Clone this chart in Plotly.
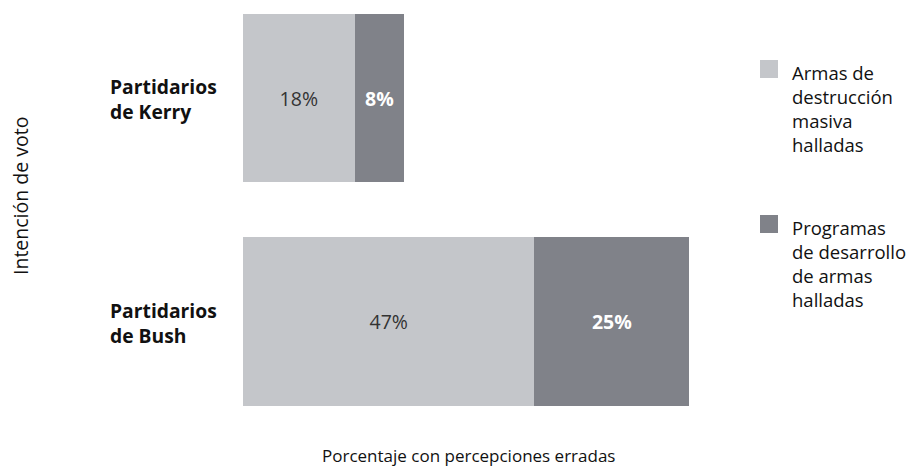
import plotly.graph_objects as go

# Data
groups = ["Partidarios<br>de Kerry", "Partidarios<br>de Bush"]
series_names = [
    "Armas de<br>destrucción<br>masiva<br>halladas",
    "Programas<br>de desarrollo<br>de armas<br>halladas",
]
wmd_found = [18, 47]
programs_found = [8, 25]

x_title = "Porcentaje con percepciones erradas"
y_title = "Intención de voto"

# Styling
FONT = "Open Sans"
LIGHT = "#c4c6ca"
DARK = "#808289"
W, H = 912, 466
ML, MR, MT, MB = 243, 204, 5, 51
PW, PH = W - ML - MR, H - MT - MB


def px_x(px):
    return (px - ML) / PW


def px_y(py):
    return 1 - (py - MT) / PH


fig = go.Figure()
fig.add_trace(go.Bar(
    y=groups, x=wmd_found, orientation="h", name=series_names[0],
    marker=dict(color=LIGHT, line=dict(width=0)), width=0.755,
    texttemplate="%{x}%", textposition="inside", insidetextanchor="middle",
    textangle=0, textfont=dict(family=FONT, size=19.5, color="#333333"),
    hoverinfo="skip",
))
fig.add_trace(go.Bar(
    y=groups, x=programs_found, orientation="h", name=series_names[1],
    marker=dict(color=DARK, line=dict(width=0)), width=0.755,
    texttemplate="<b>%{x}%</b>", textposition="inside", insidetextanchor="middle",
    textangle=0, textfont=dict(family=FONT, size=19.5, color="#ffffff"),
    hoverinfo="skip",
))

annotations = []
# Group labels, left-aligned beside each bar
for g in groups:
    annotations.append(dict(
        x=px_x(108), xref="paper", xanchor="left",
        y=g, yref="y", yanchor="middle", yshift=-1,
        text=f"<b>{g}</b>", align="left", showarrow=False,
        font=dict(family=FONT, size=19.3, color="#111111"),
    ))

# Legend drawn as swatches with wrapped labels
legend_items = [(LIGHT, 60, 108), (DARK, 215, 263)]
shapes = []
for (color, sq_top, text_mid), name in zip(legend_items, series_names):
    shapes.append(dict(
        type="rect", xref="paper", yref="paper",
        x0=px_x(760), x1=px_x(778), y0=px_y(sq_top + 18), y1=px_y(sq_top),
        fillcolor=color, line=dict(width=0),
    ))
    annotations.append(dict(
        x=px_x(790), xref="paper", xanchor="left",
        y=px_y(text_mid), yref="paper", yanchor="middle",
        text=name, align="left", showarrow=False,
        font=dict(family=FONT, size=18.5, color="#111111"),
    ))

# Axis titles
annotations.append(dict(
    x=px_x(468), xref="paper", xanchor="center",
    y=px_y(455), yref="paper", yanchor="middle",
    text=x_title, showarrow=False,
    font=dict(family=FONT, size=17, color="#111111"),
))
annotations.append(dict(
    x=px_x(20), xref="paper", xanchor="center",
    y=px_y(196), yref="paper", yanchor="middle",
    text=y_title, textangle=-90, showarrow=False,
    font=dict(family=FONT, size=19.5, color="#111111"),
))

fig.update_layout(
    width=W, height=H,
    margin=dict(l=ML, r=MR, t=MT, b=MB, pad=0),
    barmode="stack",
    showlegend=False,
    plot_bgcolor="white", paper_bgcolor="white",
    xaxis=dict(range=[0, 75], visible=False, fixedrange=True),
    yaxis=dict(range=[1.418, -0.416], showticklabels=False, showgrid=False,
               zeroline=False, showline=False, ticks="", fixedrange=True),
    annotations=annotations,
    shapes=shapes,
    uniformtext=dict(mode=False),
)

fig.write_html("out.html", config={"displayModeBar": False})
